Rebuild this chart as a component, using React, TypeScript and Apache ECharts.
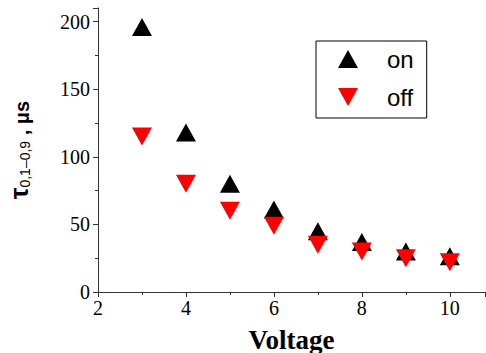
import React, { useEffect, useRef } from "react";
import * as echarts from "echarts";

const voltages = [3, 4, 5, 6, 7, 8, 9, 10];
const onValues = [196, 118, 80, 61, 45, 37, 30, 26.5];
const offValues = [115, 80, 60, 49, 35, 30, 25, 22];
const seriesNames = ["on", "off"];

export default function App() {
  const ref = useRef<HTMLDivElement>(null);
  useEffect(() => {
    if (!ref.current) return;
    const chart = echarts.init(ref.current, null, { renderer: "svg" });
    const axisCommon = {
      axisLine: { show: true, lineStyle: { color: "#333", width: 1 } },
      axisTick: { show: true, inside: false, length: 5, lineStyle: { color: "#333" } },
      minorTick: { show: true, splitNumber: 2, length: 3, lineStyle: { color: "#333" } },
      splitLine: { show: false },
      axisLabel: { color: "#000", fontFamily: "Liberation Serif", fontSize: 20 },
    };
    chart.setOption({
      animation: false,
      backgroundColor: "#fff",
      grid: { left: 98, right: 1, top: 8, bottom: 61, containLabel: false, outerBoundsMode: "none" },
      legend: {
        left: 316,
        top: 41,
        orient: "vertical",
        data: seriesNames,
        itemWidth: 20,
        itemHeight: 18,
        itemGap: 14,
        padding: [6, 13, 9, 22],
        borderColor: "#000",
        borderWidth: 1,
        borderRadius: 0,
        textStyle: { fontFamily: "Liberation Sans", fontSize: 24, color: "#000", padding: [0, 0, 0, 24] },
      },
      xAxis: {
        type: "value",
        min: 2,
        max: 10.8,
        interval: 2,
        ...axisCommon,
        axisLabel: {
          ...axisCommon.axisLabel,
          margin: 6,
          formatter: (v: number) => (v > 10.5 ? "" : String(v)),
        },
        name: "Voltage",
        nameLocation: "middle",
        nameGap: 34,
        nameTextStyle: { fontFamily: "Liberation Serif", fontWeight: "bold", fontSize: 27, color: "#000" },
      },
      yAxis: {
        type: "value",
        min: 0,
        max: 210,
        interval: 50,
        ...axisCommon,
        axisLabel: {
          ...axisCommon.axisLabel,
          margin: 8,
          formatter: (v: number) => (v > 205 ? "" : String(v)),
        },
        name: "{t|τ}{s|0,1–0,9}{u| , μs}",
        nameLocation: "middle",
        nameRotate: 90,
        nameGap: 66,
        nameTextStyle: {
          rich: {
            t: { fontFamily: "Liberation Sans", fontWeight: "bold", fontSize: 26, color: "#000", lineHeight: 26, verticalAlign: "bottom" },
            s: { fontFamily: "Liberation Sans", fontSize: 14, color: "#000", lineHeight: 11, verticalAlign: "bottom" },
            u: { fontFamily: "Liberation Sans", fontWeight: "bold", fontSize: 20, color: "#000", lineHeight: 26, verticalAlign: "bottom" },
          },
        },
      },
      series: [
        {
          name: seriesNames[0],
          type: "scatter",
          symbol: "path://M10,0L20,18L0,18Z",
          symbolSize: [20, 18],
          itemStyle: { color: "#000", opacity: 1 },
          data: voltages.map((v, i) => [v, onValues[i]]),
          z: 2,
        },
        {
          name: seriesNames[1],
          type: "scatter",
          symbol: "path://M0,0L20,0L10,18Z",
          symbolSize: [20, 18],
          itemStyle: { color: "#ff0000", opacity: 1 },
          data: voltages.map((v, i) => [v, offValues[i]]),
          z: 3,
        },
      ],
    });
    return () => chart.dispose();
  }, []);
  return <div ref={ref} style={{ width: 486, height: 353, position: "absolute", left: 0, top: 0 }} />;
}
